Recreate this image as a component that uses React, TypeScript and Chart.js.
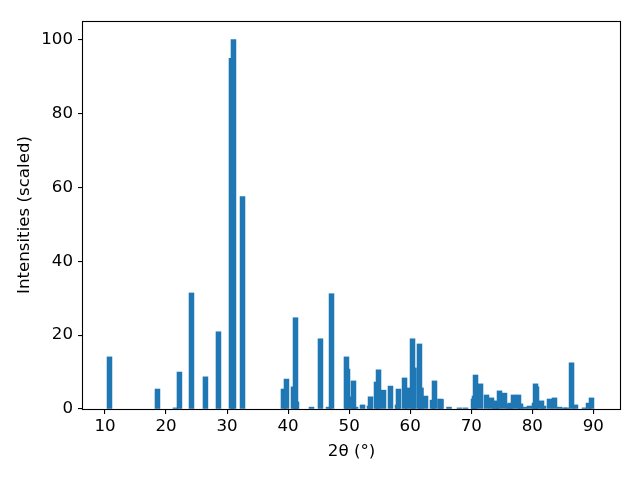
import React, { useEffect, useRef } from "react";
import { Chart, registerables } from "chart.js";

Chart.register(...registerables);

const twoTheta: number[] = [
  10.74, 18.6, 21.55, 22.2, 24.17, 26.46, 28.59, 30.72, 31.05, 32.53,
  39.24, 39.73, 40.88, 41.21, 41.37, 43.83, 45.3, 46.62, 47.11,
  49.56, 49.73, 50.55, 50.71, 51.04, 52.19, 53.33, 53.5, 54.48, 54.81,
  55.63, 56.77, 57.92, 58.08, 59.07, 59.56, 60.38, 60.62, 61.52, 61.77,
  62.51, 63.65, 63.98, 64.88, 65.05, 66.36, 68.08, 69.06, 70.37, 70.53,
  70.7, 71.52, 72.5, 73.32, 73.89, 74.22, 74.63, 75.45, 76.1, 76.43,
  76.92, 77.74, 78.07, 78.73, 79.54, 80.36, 80.53, 80.69, 81.51, 81.84,
  82.82, 83.64, 84.46, 85.28, 85.61, 86.43, 87.08, 88.56, 89.21, 89.7,
];

const intensities: number[] = [
  14.1, 5.4, 0.3, 10.0, 31.4, 8.7, 20.9, 94.9, 100, 57.5,
  5.4, 8.1, 6.0, 24.7, 1.9, 0.5, 19.0, 0.5, 31.2,
  14.1, 10.8, 3.3, 7.6, 0.5, 1.1, 0.8, 3.3, 7.3, 10.6,
  5.1, 6.2, 1.1, 5.4, 8.4, 5.7, 19.0, 11.1, 17.6, 5.7,
  3.5, 2.4, 7.6, 2.7, 2.6, 0.5, 0.3, 0.3, 2.7, 3.5,
  9.2, 6.8, 3.8, 3.0, 2.2, 1.4, 4.9, 4.3, 1.4, 1.6,
  3.8, 3.8, 1.4, 0.5, 0.8, 1.6, 6.8, 6.0, 2.2, 0.8,
  2.7, 3.0, 0.5, 0.3, 0.3, 12.5, 1.1, 0.3, 1.6, 3.0,
];

const xTickValues: number[] = [10, 20, 30, 40, 50, 60, 70, 80, 90];
const yTickValues: number[] = [0, 20, 40, 60, 80, 100];

const FONT = "'DejaVu Sans', sans-serif";
const FS = 16.67;

const framePlugin = {
  id: "frame",
  afterDatasetsDraw(chart: any) {
    const { ctx, chartArea } = chart;
    ctx.save();
    ctx.strokeStyle = "#000";
    ctx.lineWidth = 1.1;
    const l = Math.round(chartArea.left) - 0.5;
    const t = Math.round(chartArea.top) + 0.5;
    const r = Math.round(chartArea.right) + 0.5;
    const b = Math.round(chartArea.bottom) + 0.5;
    ctx.strokeRect(l, t, r - l, b - t);
    ctx.restore();
  },
};

export default function App() {
  const ref = useRef<HTMLCanvasElement | null>(null);

  useEffect(() => {
    if (!ref.current) return;
    const chart = new Chart(ref.current, {
      type: "bar",
      data: {
        datasets: [
          {
            data: twoTheta.map((x, i) => ({ x, y: intensities[i] })),
            backgroundColor: "#1f77b4",
            borderWidth: 0,
            barThickness: 4.88,
            grouped: false,
          } as any,
        ],
      },
      options: {
        responsive: false,
        animation: false,
        devicePixelRatio: 1,
        layout: { padding: { top: 21, right: 20, left: 0, bottom: 0 } },
        plugins: { legend: { display: false }, tooltip: { enabled: false } },
        scales: {
          x: {
            type: "linear",
            min: 6.4,
            max: 94.37,
            offset: false,
            afterBuildTicks: (s: any) => {
              s.ticks = xTickValues.map((v) => ({ value: v }));
            },
            afterFit: (s: any) => {
              s.height = 71;
            },
            grid: {
              offset: false,
              drawOnChartArea: false,
              drawTicks: true,
              tickLength: 5,
              tickColor: "#000",
              lineWidth: 1.1,
            },
            border: { display: false },
            ticks: {
              color: "#000",
              padding: 3,
              maxRotation: 0,
              autoSkip: false,
              font: { family: FONT, size: FS },
            },
            title: {
              display: true,
              text: "2θ (°)",
              color: "#000",
              font: { family: FONT, size: FS },
              padding: { top: 0, bottom: 18 },
            },
          },
          y: {
            type: "linear",
            min: 0,
            max: 105,
            afterBuildTicks: (s: any) => {
              s.ticks = yTickValues.map((v) => ({ value: v }));
            },
            afterFit: (s: any) => {
              s.width = 83;
            },
            grid: {
              offset: false,
              drawOnChartArea: false,
              drawTicks: true,
              tickLength: 5,
              tickColor: "#000",
              lineWidth: 1.1,
            },
            border: { display: false },
            ticks: {
              color: "#000",
              padding: 5,
              autoSkip: false,
              font: { family: FONT, size: FS },
            },
            title: {
              display: true,
              text: "Intensities (scaled)",
              color: "#000",
              font: { family: FONT, size: FS },
              padding: { top: 15, bottom: 0 },
            },
          },
        },
      } as any,
      plugins: [framePlugin],
    });
    return () => chart.destroy();
  }, []);

  return (
    <div style={{ position: "fixed", left: 0, top: 0, width: 640, height: 480, background: "#fff" }}>
      <canvas ref={ref} width={640} height={480} style={{ width: 640, height: 480, display: "block" }} />
    </div>
  );
}
